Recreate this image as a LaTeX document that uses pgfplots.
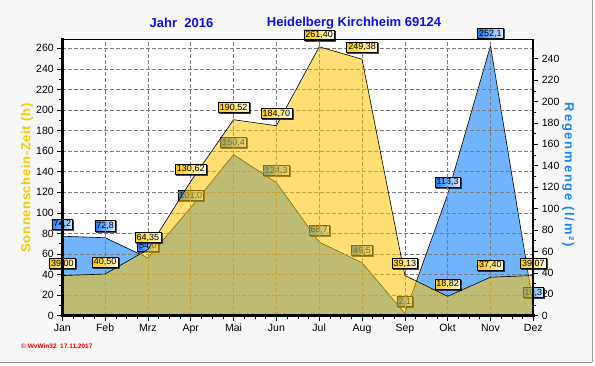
\documentclass[border=0pt]{standalone}
\usepackage{fontspec}
\setmainfont{Liberation Sans}
\newfontfamily\leftlab[LetterSpace=5]{Liberation Sans}
\newfontfamily\rightlab[LetterSpace=14]{Liberation Sans}
\usepackage{pgfplots}
\pgfplotsset{compat=1.18}
\usetikzlibrary{shadows}
\definecolor{sunfill}{RGB}{255,196,0}
\definecolor{rainfill}{RGB}{112,180,255}
\definecolor{titleblue}{RGB}{15,15,240}
\definecolor{sunlab}{RGB}{255,200,0}
\definecolor{rainlab}{RGB}{25,135,255}
\definecolor{gridgray}{RGB}{125,125,125}
\definecolor{bg}{RGB}{248,248,248}
\definecolor{sunboxL}{RGB}{255,200,0}
\definecolor{sunboxR}{RGB}{255,253,235}
\definecolor{rainboxL}{RGB}{20,125,255}
\definecolor{rainboxR}{RGB}{220,238,255}

\pgfplotsset{
  base/.style={scale only axis, width=471pt, height=276.4pt,
    at={(62.3pt,49.3pt)}, anchor=south west, xmin=0, xmax=11, clip=false},
  tk/.style={tick align=outside, major tick length=5pt, minor tick length=3pt,
    tick style={black, line width=0.6pt},
    tick label style={font=\fontsize{10.5}{12}\selectfont, black},
    /pgf/number format/assume math mode=true},
  vlab/.style={nodes near coords,
    every node near coord/.append style={font=\fontsize{9}{10}\selectfont,
      text=black, draw=black, line width=0.5pt, inner xsep=1.6pt, inner ysep=1.3pt,
      anchor=center, yshift=12pt, fill opacity=1, text opacity=1, draw opacity=1,
      drop shadow={shadow xshift=1pt, shadow yshift=-1pt, fill=black!40, opacity=0.7}}},
}

\begin{document}
\begin{tikzpicture}
\path[use as bounding box, fill=white] (0,0) rectangle (595pt,365pt);
\fill[bg] (0,3pt) rectangle (592pt,365pt);
\draw[gray!80, line width=1pt] (592pt,3pt) -- (592pt,365pt);
\draw[gray!80, line width=1pt] (0,3pt) -- (592pt,3pt);

% Rain (right axis)
\begin{axis}[base, tk, ymin=0, ymax=258.1,
  axis x line=none, axis y line*=right, axis line style={draw=none},
  ytick={0,20,...,240}, minor y tick num=1,
  axis background/.style={fill=white},
  ylabel={\rightlab\bfseries\fontsize{13}{15}\selectfont Regenmenge (l/m²)},
  y label style={at={(axis description cs:1.074,0.509)}, anchor=center, rotate=180, text=rainlab}]
\addplot[draw=black, line width=0.6pt, fill=rainfill, vlab,
  nodes near coords={\pgfmathprintnumber[fixed,fixed zerofill,precision=1,use comma]{\pgfplotspointmeta}},
  every node near coord/.append style={left color=rainboxL, right color=rainboxR}]
  coordinates {(0,74.2) (1,72.8) (2,54.0) (3,101.0) (4,150.4) (5,124.3)
               (6,68.7) (7,49.5) (8,2.1) (9,113.3) (10,252.1) (11,10.3)} \closedcycle;
\end{axis}

% Sunshine (left axis)
\begin{axis}[base, tk, ymin=0, ymax=268.7,
  axis x line*=bottom, axis y line*=left, axis line style={draw=none},
  xtick={0,...,11},
  xticklabels={Jan,Feb,Mrz,Apr,Mai,Jun,Jul,Aug,Sep,Okt,Nov,Dez},
  minor x tick num=3,
  ytick={0,20,...,260}, minor y tick num=1,
  grid=major, major grid style={gridgray, dash pattern=on 3.5pt off 2.5pt, line width=0.6pt},
  ylabel={\leftlab\bfseries\fontsize{13}{15}\selectfont Sonnenschein-Zeit (h)},
  y label style={at={(axis description cs:-0.075,0.498)}, anchor=center, text=sunlab}]
\addplot[draw=black, line width=0.6pt, fill=sunfill, fill opacity=0.55, vlab,
  nodes near coords={\pgfmathprintnumber[fixed,fixed zerofill,precision=2,use comma]{\pgfplotspointmeta}},
  every node near coord/.append style={left color=sunboxL, right color=sunboxR}]
  coordinates {(0,39.00) (1,40.50) (2,64.35) (3,130.62) (4,190.52) (5,184.70)
               (6,261.40) (7,249.38) (8,39.13) (9,18.82) (10,37.40) (11,39.07)} \closedcycle;
\end{axis}

% frame lines
\begin{axis}[base, ymin=0, ymax=1, axis x line*=top, axis y line*=right,
  xtick=\empty, ytick=\empty, axis line style={-, black},
  x axis line style={line width=0.8pt}, y axis line style={line width=2.2pt}]
\end{axis}
\begin{axis}[base, ymin=0, ymax=1, axis x line*=bottom, axis y line*=left,
  xtick=\empty, ytick=\empty, axis line style={-, black, line width=2.6pt, line cap=rect}]
\end{axis}

\node[text=titleblue, font=\bfseries\fontsize{13}{15}\selectfont] at (181.5pt,342pt) {Jahr\ \ 2016};
\node[text=titleblue, font=\bfseries\fontsize{13}{15}\selectfont] at (354pt,342pt) {Heidelberg Kirchheim 69124};
\node[anchor=west, text=red, font=\bfseries\fontsize{6.5}{7}\selectfont, inner sep=0pt] at (21pt,19pt) {© WvWin32\ \ 17.11.2017};
\end{tikzpicture}
\end{document}
